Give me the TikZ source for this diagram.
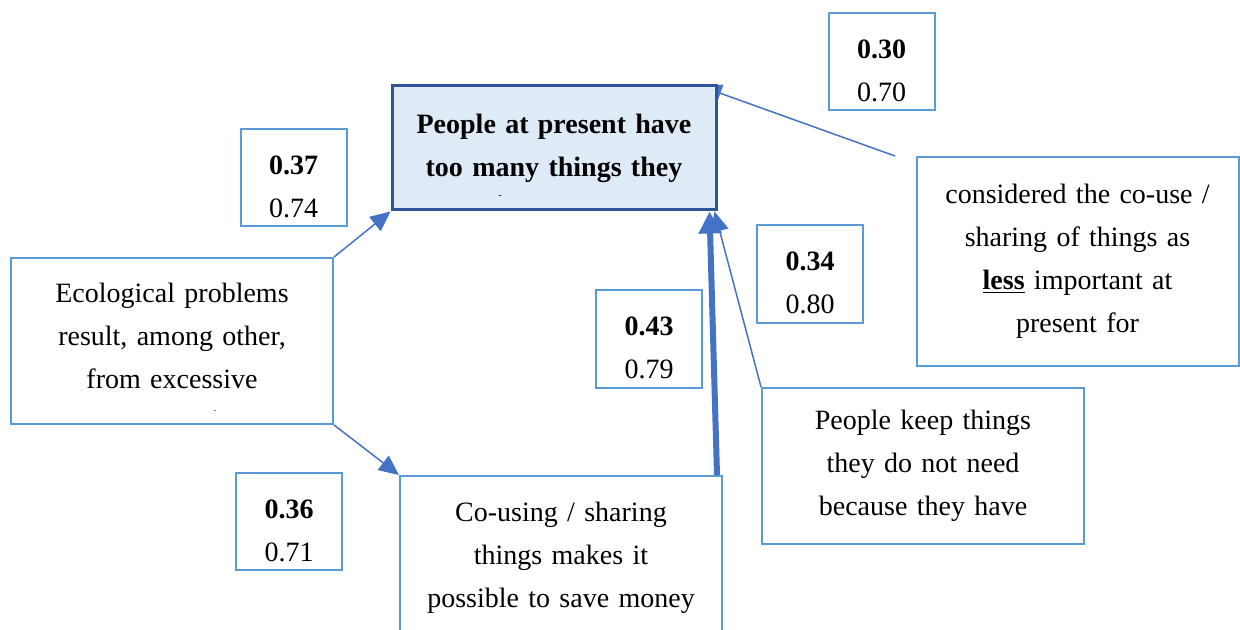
\documentclass[tikz,border=0pt]{standalone}
\usepackage{fontspec}
\setmainfont{Liberation Serif}
\usetikzlibrary{arrows.meta, backgrounds}

\definecolor{mainfill}{HTML}{DEEBF7}
\definecolor{mainline}{HTML}{2F5597}
\definecolor{boxline}{HTML}{5B9BD5}
\definecolor{linkblue}{HTML}{4472C4}

\newcommand{\coefpair}[2]{\rule{0pt}{18.5pt}\textbf{#1}\\#2}

\begin{document}
\begin{tikzpicture}[x=0.5pt, y=-0.5pt,
    textfont/.style={font=\fontsize{14pt}{21.5pt}\selectfont},
    mainbox/.style={draw=mainline, line width=1.5pt, fill=mainfill, textfont,
      align=center, text width=150pt, minimum width=162pt, minimum height=62pt},
    factor/.style={draw=boxline, line width=1pt, textfont, align=center,
      text width=150pt, minimum width=161pt},
    coef/.style={draw=boxline, line width=1pt, textfont, align=center,
      minimum width=53pt, minimum height=48.5pt},
    link/.style={draw=linkblue, line width=0.75pt, -{Triangle[length=10pt, width=9pt]}},
    thicklink/.style={draw=linkblue, line width=3pt, -{Triangle[length=11pt, width=11pt]}}]

    \useasboundingbox (0,0) rectangle (1240,630);

    %define the statements
    \node[mainbox] (present) at (554,148) {\bfseries People at present have\\too many things they};
    \node[factor, minimum height=83pt] (ecology) at (172,341) {Ecological problems\\result, among other,\\from excessive\rule[-5pt]{0pt}{0pt}};
    \node[factor, minimum height=104.5pt] (lessimp) at (1077.5,261.5) {considered the co-use /\\sharing of things as\\\underline{\textbf{less}} important at\\present for};
    \node[factor, minimum height=78pt] (keep) at (923,466) {People keep things\\they do not need\\because they have};
    \node[factor, minimum height=82pt] (couse) at (561,558) {Co-using / sharing\\things makes it\\possible to save money};
    \node[font=\tiny] (cutmark) at (500,197) {-};
    \node[font=\tiny] (cutdot) at (215,411) {.};

    % define the coefficients
    \node[coef] (c30) at (881.5,61.5) {\coefpair{0.30}{0.70}};
    \node[coef] (c37) at (293.5,177.5) {\coefpair{0.37}{0.74}};
    \node[coef] (c43) at (649,339) {\coefpair{0.43}{0.79}};
    \node[coef] (c34) at (810,274) {\coefpair{0.34}{0.80}};
    \node[coef] (c36) at (289,521.5) {\coefpair{0.36}{0.71}};

    % define the links
    \path (ecology.north east) edge[link] (present.south west)
          (ecology.south east) edge[link] (couse.north west)
          (keep.north west) edge[link] ([xshift=-1.5pt]present.south east)
          ([xshift=-3pt]couse.north east) edge[thicklink] ([xshift=-4pt]present.south east);
    \coordinate (lessend) at (895,156);
    \begin{pgfonlayer}{background}
      \draw[link] (lessend) -- ([xshift=-8pt, yshift=-1pt]present.north east);
    \end{pgfonlayer}
\end{tikzpicture}
\end{document}
